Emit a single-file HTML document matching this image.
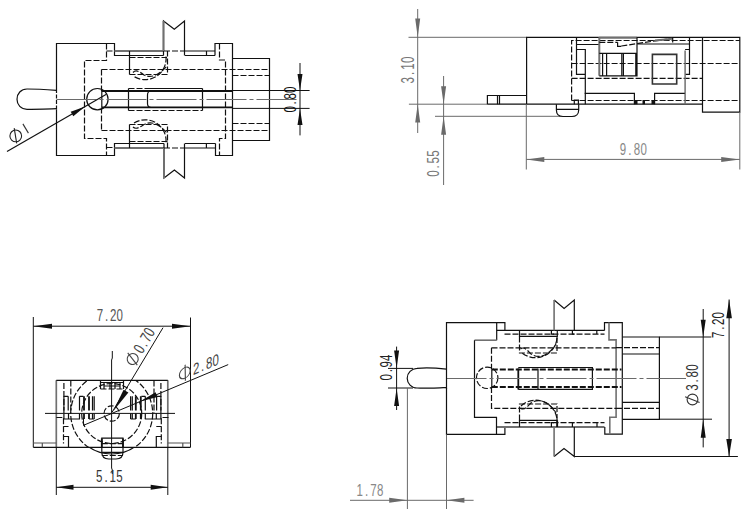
<!DOCTYPE html>
<html><head><meta charset="utf-8">
<style>
html,body{margin:0;padding:0;background:#fff;width:750px;height:519px;overflow:hidden}
svg{display:block}
.k{stroke:#111;stroke-width:1.2;fill:none}
.kb{stroke:#111;stroke-width:1.8;fill:none}
.g{stroke:#707070;stroke-width:2;fill:none}
.gt{stroke:#555;stroke-width:1.2;fill:none}
.d{stroke:#111;stroke-width:1.2;fill:none;stroke-dasharray:6 2}
.db{stroke:#111;stroke-width:2;fill:none;stroke-dasharray:6 2}
.c{stroke:#6a6a6a;stroke-width:1.1;fill:none}
.m{stroke:#6a6a6a;stroke-width:1;fill:none}
.mk{stroke:#111;stroke-width:1;fill:none}
.ag{fill:#6a6a6a;stroke:none}
.ak{fill:#111;stroke:none}
text{font-family:"Liberation Sans",sans-serif;fill:#777}
</style></head><body>
<svg width="750" height="519" viewBox="0 0 750 519">

<!-- ================= TOP-LEFT VIEW ================= -->
<g id="tl">
  <!-- left body outline -->
  <path class="k" d="M56.5,89 V43.5 H114.5 V55.5 H163.5"/>
  <path class="k" d="M56.5,109.5 V155.5 H114.5 V143.5 H164"/>
  <path class="k" d="M56.5,89 V109.5" style="stroke-dasharray:4 1.5"/>
  <path class="g" d="M114.5,51 H164 M114.5,148 H164"/>
  <!-- V notches -->
  <path class="k" d="M163.5,55.5 V21 L174.3,29.3 L184.5,21 V55.5"/>
  <path class="g" d="M163.5,21 V51"/>
  <path class="k" d="M164,143.5 V178 L174.4,170 L184.5,178 V143.5"/>
  <path class="g" d="M164,148 V178"/>
  <path class="d" d="M164,51 H185 M164,148 H185"/>
  <!-- between notch and right block -->
  <path class="k" d="M185,55.5 H215 M185,51 H215 M206.5,51 V55.5"/>
  <path class="k" d="M185,143.5 H215.5 M185,148 H215.5 M206.4,143.5 V148"/>
  <!-- right block -->
  <path class="k" d="M215,55.5 V43.5 H232.5 V155.5 H215.5 V143.5"/>
  <!-- small right rect -->
  <path class="k" d="M232.5,58.5 H269.5 V140.5 H232.5"/>
  <path class="d" d="M232.5,75.5 H269.5 M232.5,123.5 H269.5"/>
  <!-- dashed step outline -->
  <path class="d" d="M106.5,43.5 V60.5 H84.5 V138.5 H106.5 V155.5"/>
  <path class="d" d="M106.5,51 H114.5 M106.5,147.5 H114.5"/>
  <path class="d" d="M219.5,43.5 V60 H225.5 V138.5 H219.5 V155.5"/>
  <!-- inner dashed rect -->
  <path class="d" d="M101.5,69.5 H269.5 M101.5,130.5 H269.5 M101.5,69.5 V91 M101.5,107.5 V130.5"/>
  <!-- upper spring box -->
  <path class="k" d="M129.5,51 V74.5"/>
  <path class="d" d="M129.5,57.5 H167 M129.5,74.5 H167.5 V51"/>
  <path class="d" d="M166,56.5 A21,21 0 0 1 134,76.5"/>
  <path class="d" d="M133,72.5 C136,69 140,72 144,75 C152,79 160,74 167,66"/>
  <!-- lower spring box -->
  <path class="k" d="M129.5,124.5 V148"/>
  <path class="d" d="M129.5,124.5 H167.5 V148 M129.5,141.5 H167.5"/>
  <path class="d" d="M134,123 A21,21 0 0 1 166,143"/>
  <path class="d" d="M133,127 C136,130 140,127 144,124.5 C152,120 160,125 167,133"/>
  <!-- pin circle -->
  <circle class="k" cx="97.4" cy="99.2" r="10.7"/>
  <!-- pin bore thick lines -->
  <path class="kb" d="M101.8,91 H232.5 M101.8,107.4 H232.5"/>
  <path class="k" d="M101.8,91 V107.4"/>
  <!-- pin rect -->
  <path class="k" d="M128.5,88.5 V110.5 M202.5,88.5 V110.5 M150,88.5 H202.5"/>
  <path class="d" d="M128.5,88.5 H150 M128.5,110.5 H202.5"/>
  <path class="k" d="M150.5,91 Q147.5,91.5 147.5,95 V103.5 Q147.5,107 150.5,107.4"/>
  <!-- extension lines 0.80 -->
  <path class="mk" d="M232.5,90.5 H309.6 M232.5,108.4 H309.6"/>
  <!-- centre line -->
  <path class="c" d="M56.5,99.5 H297" style="stroke-dasharray:40 3 4 3"/>
  <!-- left pin -->
  <path class="k" d="M56.5,90.3 C45,89.5 35,89 27,89 C21,89 17,93.5 17,99.2 C17,105 21,109.3 27,109.3 C35,109.3 45,109 56.5,108.7"/>
  <!-- 0.80 dim -->
  <path class="mk" d="M300,63 V135.4"/>
  <path class="ak" d="M297.5,74 L302.5,74 L300,90.5 Z M297.5,125 L302.5,125 L300,108.4 Z"/>
  <!-- Phi 1 leader -->
  <path class="mk" d="M7,151.6 L106.4,94.3" style="stroke-width:1.2"/>
  <path class="ak" d="M85.2,106.4 L73.3,116.3 L70.7,111.8 Z"/>
</g>

<!-- ================= TOP-RIGHT VIEW ================= -->
<g id="tr">
  <!-- 3.10 dim -->
  <path class="m" d="M408.5,37.3 H526.6 M408.9,104.2 H487.4 M417.7,9 V133"/>
  <path class="ag" d="M415.2,18.5 L420.2,18.5 L417.7,37.3 Z M415.2,122.4 L420.2,122.4 L417.7,104.2 Z"/>
  <!-- 0.55 dim -->
  <path class="m" d="M435,116.3 H560 M443.6,76 V185"/>
  <path class="ag" d="M441.1,86.2 L446.1,86.2 L443.6,104.2 Z M441.1,134.7 L446.1,134.7 L443.6,116.3 Z"/>
  <!-- body -->
  <path class="k" d="M526.6,104.2 V37.3 H739.8 V112.2 H702.5 V37.3"/>
  <path class="k" d="M487.4,104.2 H702.5"/>
  <path class="k" d="M487.4,104.2 V95.5 H526.6 M497.5,95.5 V104.2 M499.5,95.5 V104.2"/>
  <!-- 9.80 dim -->
  <path class="m" d="M526.3,104.2 V169.5 M739.8,112.2 V169.5 M526.3,159.4 H739.8"/>
  <path class="ag" d="M526.3,159.4 L544.3,156.9 L544.3,161.9 Z M739.8,159.4 L721.2,156.9 L721.2,161.9 Z"/>
  <!-- D shape -->
  <path class="k" d="M556.4,104.2 V110 C556.4,114 559,116.5 563,116.5 H572 C576,116.5 578.7,114 578.7,110 V104.2 M556.4,109.4 H578.7"/>
  <!-- dashed internal -->
  <path class="d" d="M571.6,100.5 V40.5 H739.8 M571.6,63.5 H739.8 M571.6,78.3 H702.5 M571.6,100.5 H739.8"/>
  <path class="k" d="M576.5,37.3 V74.4 H585.3 M576.5,44.5 H599 M576.5,49.5 H585.3 V104.2"/>
  
  <path class="k" d="M574.3,104.2 V100.2 H578.4 V104.2"/>
  <!-- solid rect with bars -->
  <path class="g" d="M599.3,37.3 V75.8 M599,37.8 H637"/>
  <path class="k" d="M599.3,53.3 H637 V75.8 H599.3 M637,37.3 V53.3 M602.6,53.3 V75.8 M606.6,53.3 V75.8 M621.8,53.3 V75.8 M623.4,53.3 V75.8 M635.8,53.3 V75.8"/>
  <path class="d" d="M599.3,42.3 H617.6"/><path class="k" d="M617.6,42.3 V46.4 H621.3"/><path class="d" d="M621.3,46 L672.7,38.2"/>
  <path class="k" d="M637.3,44 H689.3 M672.7,38 V42.5"/><path class="g" d="M655,40.5 L672,38.8"/>
  <!-- square -->
  <path class="k" d="M652.4,54.4 H676.7 V84 H652.4 Z" style="stroke-width:1.6;stroke:#333"/>
  <!-- right small box -->
  <path class="k" d="M689.5,37.5 V74.4 H685.1 M685.1,49.5 H689.5"/><path class="g" d="M685.1,50.6 V104.2" style="stroke-width:1.5"/>
  <!-- bottom -->
  <path class="k" d="M584.7,93.4 H634.4 V104.2 M654.6,104.2 V93.4 H684.8"/>
  <path class="ak" d="M634.4,100 H637.5 V104.2 H634.4 Z M642.5,100 H645 V104.2 H642.5 Z M651.5,100 H654.6 V104.2 H651.5 Z"/>
</g>

<!-- ================= BOTTOM-LEFT VIEW ================= -->
<g id="bl">
  <defs>
    <clipPath id="clipbody"><rect x="56" y="380.5" width="112" height="67"/></clipPath>
    <clipPath id="clipbelow"><rect x="56" y="447.3" width="112" height="20"/></clipPath>
  </defs>
  <!-- 7.20 dim -->
  <path class="mk" d="M33.3,317 V447.3 M190.5,317.5 V447.3 M33.3,326.2 H190.5"/>
  <path class="ak" d="M33.3,326.2 L52,323.7 L52,328.7 Z M190.5,326.2 L172,323.7 L172,328.7 Z"/>
  <!-- body -->
  <path class="g" d="M56.3,380.3 V447.3 M167.8,380.3 V447.3" style="stroke-width:1.7"/>
  <path class="k" d="M56.3,380.3 H167.8"/>
  <path class="k" d="M33.3,447.3 H190.5"/>
  <path class="gt" d="M33.3,443 H56.3 M42.3,443 V447.3 M167.8,443 H190.5 M182.8,443 V447.3"/>
  <!-- 5.15 dim -->
  <path class="mk" d="M56.3,447.3 V495 M167.8,447.3 V495 M56.3,487.3 H167.8"/>
  <path class="ak" d="M56.3,487.3 L73.5,484.8 L73.5,489.8 Z M167.8,487.3 L150.7,484.8 L150.7,489.8 Z"/>
  <!-- centre lines -->
  <path class="mk" d="M112.3,351 V358 L111.6,360 V468 L112.3,470 V474 M45,413.4 H175"/>
  <!-- circles -->
  <circle class="d" cx="111.7" cy="413.5" r="7.7"/>
  <circle class="d" cx="111.7" cy="413.5" r="30"/>
  <circle class="d" cx="111.7" cy="413.5" r="41" clip-path="url(#clipbody)"/>
  <circle class="k" cx="111.7" cy="413.5" r="40.5" clip-path="url(#clipbelow)"/>
  <!-- side dashed + bars -->
  <path class="d" d="M63.9,383 V413 M70.8,380.5 V413 M160.9,383 V413 M154.0,380.5 V413"/>
  <path class="d" d="M56.3,417.5 H63.5 V443.5 M168.5,417.5 H161.3 V443.5"/>
  <path class="k" d="M63.5,419 H68.5 V413 M63.5,426.5 H68.5 M63.5,436.5 H68.5 V447.3 M68.5,419 H80 M161.3,419 H156.3 V413 M161.3,426.5 H156.3 M161.3,436.5 H156.3 V447.3 M156.3,419 H144.8"/>
  <path class="k" d="M63.9,396.3 H68.2 M63.9,396.3 V410.5 M68.2,396.3 V410.5 M79.5,396.3 H83.4 M79.5,396.3 V410.5 M92.5,396.3 V410.5 M94.2,396.3 V410.5 M63.9,413.5 V419 M79.5,413.5 V419 M92.5,413.5 V419 M94.2,413.5 V419 M89,419 H94.2 M160.9,396.3 H156.6 M160.9,396.3 V410.5 M156.6,396.3 V410.5 M145.3,396.3 H141.4 M145.3,396.3 V410.5 M132.3,396.3 V410.5 M130.6,396.3 V410.5 M160.9,413.5 V419 M145.3,413.5 V419 M132.3,413.5 V419 M130.6,413.5 V419 M135.8,419 H130.6"/>
  <path class="kb" d="M84,396.3 V410.5 M89,396.3 V410.5 M84,413.5 V419 M89,413.5 V419 M140.8,396.3 V410.5 M135.8,396.3 V410.5 M140.8,413.5 V419 M135.8,413.5 V419"/>
  <!-- top small box -->
  <path class="k" d="M100.5,382.5 H123.5 M100.5,380.5 V389 M123.5,380.5 V389 M104,386 H120 M104,382.5 V389 M110,382.5 V389 M115,382.5 V389 M120,382.5 V389"/>
  <path class="d" d="M100.5,389 H123.5"/>
  <!-- bottom tab -->
  <path class="k" d="M101.8,438.2 H123 V452 C123,457 120,459 116,459 H108.8 C104.8,459 101.8,457 101.8,452 Z M101.8,452.4 H123"/>
  <path class="kb" d="M101.8,438.5 V447 M123,438.5 V447"/>
  <path class="d" d="M101.8,443.6 H123 M101.8,455.5 H123"/>
  <!-- leaders -->
  <path class="mk" d="M163,327.7 L112.2,412"/>
  <path class="ak" d="M113,411.5 L123.6,389.7 L128.4,392.6 Z"/>
  <path class="mk" d="M228.2,364.6 L83.5,425.3 V418"/>
  <path class="ak" d="M140,401.5 L155.6,392.2 L157.6,397 Z"/>
</g>

<!-- ================= BOTTOM-RIGHT VIEW ================= -->
<g id="br">
  <!-- outer body -->
  <path class="k" d="M446.5,368.2 V322.6 H504.9 V330.4"/>
  <path class="k" d="M496.7,330.4 H604.5"/>
  <path class="k" d="M446.5,388.3 V434.4 H504.9 V427"/>
  <path class="g" d="M496.7,427 H604.5" style="stroke-width:1.8"/>
  <path class="k" d="M496.7,322.6 V340.2"/>
  <path class="g" d="M496.7,340.2 H474.5" style="stroke-width:1.6"/>
  <path class="k" d="M474.5,340.2 V417.4 H496.5 V434.4"/>
  <!-- V notches -->
  <path class="k" d="M574.3,330.4 V300 L564.1,308.5 L554.1,300"/>
  <path class="g" d="M554.1,300 V330.4" style="stroke-width:1.6"/>
  <path class="k" d="M574.3,427 V456.5 L564,448.6 L554.1,456.5"/>
  <path class="g" d="M554.1,427 V456.5" style="stroke-width:1.6"/>
  <!-- ticks -->
  <path class="k" d="M572.4,330.4 V334.2 H574.4 M551.4,330.4 V334.2 H554 M596.8,330.4 V334.1"/>
  <path class="k" d="M572.4,427 V422.6 H574.4 M551.4,427 V422.6 H554 M597,427 V422.6"/>
  <path class="d" d="M504.5,334.1 H604.5 M504.5,422.6 H604.5"/>
  <!-- right block -->
  <path class="k" d="M604.5,330.4 V322.6 H622.3 V434.2 H604.8 V427"/>
  <path class="g" d="M609,322.6 V339.9 H616.1 V417.2 H609.8 V434.2" style="stroke-width:1.6"/>
  <!-- small right rect -->
  <path class="k" d="M622.3,337 H659.4 V419.3 H622.3 M622.3,354 H659.4 M622.3,402.4 H659.4"/>
  <path class="d" d="M616,347.6 H659.4 M616,408.4 H659.4"/>
  <!-- inner dashed rect -->
  <path class="d" d="M491.5,347.8 H616 M491.5,347.8 V369.5 M491.5,387.1 V408.3 H616"/>
  <!-- upper spring box -->
  <path class="k" d="M519.5,330.4 V336.4 H557.3 V330.4"/>
  <path class="d" d="M519.5,336.4 V353 H557 V336.4"/>
  <path class="d" d="M557,338 A21.5,21.5 0 0 1 521,352"/>
  <path class="d" d="M520.5,349 C524,346 527,350 531,354 C540,360 550,354 556,344"/>
  <!-- lower spring box -->
  <path class="k" d="M519.5,427 V420.4 H557.2 V427"/>
  <path class="kb" d="M557.2,420.4 V427"/>
  <path class="d" d="M519.5,420.4 V404 H557 V420.4"/>
  <path class="d" d="M521,406 A21.5,21.5 0 0 1 557,419"/>
  <path class="d" d="M520.5,408 C524,411 527,407 531,403 C540,397 550,403 556,413"/>
  <!-- pin end circle -->
  <circle class="d" cx="487.2" cy="377.8" r="10.7"/>
  <!-- pin tube -->
  <path class="db" d="M491.8,369.4 H621.5 M491.8,387.1 H621.5"/>
  <path class="k" d="M491.8,369.4 V387.1"/>
  <path class="kb" d="M518.3,368.5 V389.5"/>
  <path class="k" d="M538,368.5 V389.5"/>
  <path class="k" d="M518.3,367.5 H592.4 V389.3 H518.3"/>
  <!-- centre line -->
  <path class="c" d="M446.5,378.5 H686" style="stroke-dasharray:40 3 4 3"/>
  <!-- left pin -->
  <path class="k" d="M446.5,369.1 C436,368 425,367.5 417,368.4 C411.5,368.6 407.2,373 407.2,378.2 C407.2,383.4 411.5,388 417,388 C425,388.6 436,388 446.5,387.3 M446.5,368 V389"/>
  <!-- 0.94 dim -->
  <path class="mk" d="M388,368.4 H413 M388,388 H413 M396.6,346.6 V410"/>
  <path class="ak" d="M394.1,350.6 L399.1,350.6 L396.6,368.2 Z M394.1,406 L399.1,406 L396.6,388.3 Z"/>
  <!-- 1.78 dim -->
  <path class="m" d="M407.4,388 V509 M446.5,434.4 V509 M350,500.3 H473.6"/>
  <path class="ag" d="M407.4,500.3 L389.2,497.8 L389.2,502.8 Z M446.5,500.3 L464.4,497.8 L464.4,502.8 Z"/>
  <!-- 3.80 dim -->
  <path class="mk" d="M659.5,337 H711.3 M659.5,419.2 H712 M703.2,309 V447.4"/>
  <path class="ak" d="M700.7,319.7 L705.7,319.7 L703.2,337 Z M700.7,437.8 L705.7,437.8 L703.2,419.2 Z"/>
  <!-- 7.20 dim -->
  <path class="mk" d="M574.4,456.5 H737.9 M729.1,299.5 V456.5"/>
  <path class="ak" d="M726.3,318.2 L731.9,318.2 L729.1,299.5 Z M726.3,438.9 L731.9,438.9 L729.1,456.5 Z"/>
</g>
<g transform="translate(622.95,149.05)"><text transform="scale(0.6992,1)" x="0.00 9.94 19.88 29.82" y="5.85" text-anchor="middle" font-size="16.48" style="fill:#888">9.80</text></g>
<g transform="translate(359.70,489.75)"><text transform="scale(0.6992,1)" x="0.00 9.80 19.59 29.39" y="5.85" text-anchor="middle" font-size="16.48" style="fill:#888">1.78</text></g>
<g transform="translate(100.00,315.25)"><text transform="scale(0.7239,1)" x="0.00 9.08 18.15 27.23" y="5.65" text-anchor="middle" font-size="15.92" style="fill:#555">7.20</text></g>
<g transform="translate(99.30,475.95)"><text transform="scale(0.6651,1)" x="0.00 10.15 20.30 30.45" y="6.15" text-anchor="middle" font-size="17.32" style="fill:#333">5.15</text></g>
<g transform="translate(289.85,109.30) rotate(-90)"><text transform="scale(0.6874,1)" x="0.00 9.50 19.00 28.50" y="5.95" text-anchor="middle" font-size="16.76" style="fill:#111">0.80</text></g>
<g transform="translate(407.75,80.40) rotate(-90)"><text transform="scale(0.6245,1)" x="0.00 11.05 22.10 33.15" y="6.55" text-anchor="middle" font-size="18.45" style="fill:#777">3.10</text></g>
<g transform="translate(433.15,173.60) rotate(-90)"><text transform="scale(0.6651,1)" x="0.00 10.07 20.15 30.22" y="6.15" text-anchor="middle" font-size="17.32" style="fill:#777">0.55</text></g>
<g transform="translate(385.85,377.30) rotate(-90)"><text transform="scale(0.6761,1)" x="0.00 9.66 19.32 28.98" y="6.05" text-anchor="middle" font-size="17.04" style="fill:#222">0.94</text></g>
<g transform="translate(718.25,334.80) rotate(-90)"><text transform="scale(0.6992,1)" x="0.00 9.34 18.68 28.02" y="5.85" text-anchor="middle" font-size="16.48" style="fill:#222">7.20</text></g>
<g transform="translate(692.50,399.50) rotate(-90)"><circle cx="0" cy="0" r="5.4" fill="none" stroke="#333" stroke-width="1.1"/><line x1="2.7" y1="-7.4" x2="-2.9" y2="7.1" stroke="#333" stroke-width="1.1"/><text transform="scale(0.7113,1)" x="16.73 26.15 35.57 44.99" y="5.75" text-anchor="middle" font-size="16.20" style="fill:#333">3.80</text></g>
<g transform="translate(132.70,359.00) rotate(-59)"><circle cx="0" cy="0" r="5.5" fill="none" stroke="#444" stroke-width="1.1"/><line x1="2.7" y1="-7.4" x2="-2.9" y2="7.1" stroke="#444" stroke-width="1.1"/><text transform="scale(0.7113,1)" x="16.87 26.11 35.34 44.58" y="5.75" text-anchor="middle" font-size="16.20" style="fill:#444">0.70</text></g>
<g transform="translate(184.80,372.90) skewY(-22.8)"><circle cx="0" cy="0" r="5.4" fill="none" stroke="#444" stroke-width="1.1"/><line x1="0.3" y1="-8" x2="0.6" y2="8" stroke="#444" stroke-width="1.1"/><text transform="scale(0.7239,1)" x="15.61 24.59 33.57 42.55" y="5.65" text-anchor="middle" font-size="15.92" style="fill:#444">2.80</text></g>
<circle cx="15.75" cy="135.9" r="5.85" fill="none" stroke="#222" stroke-width="1.1"/><line x1="14.2" y1="128.2" x2="16.7" y2="143.3" stroke="#222" stroke-width="1.1"/><line x1="22.9" y1="123.9" x2="28.4" y2="133.1" stroke="#333" stroke-width="1.1"/>
</svg>
</body></html>
